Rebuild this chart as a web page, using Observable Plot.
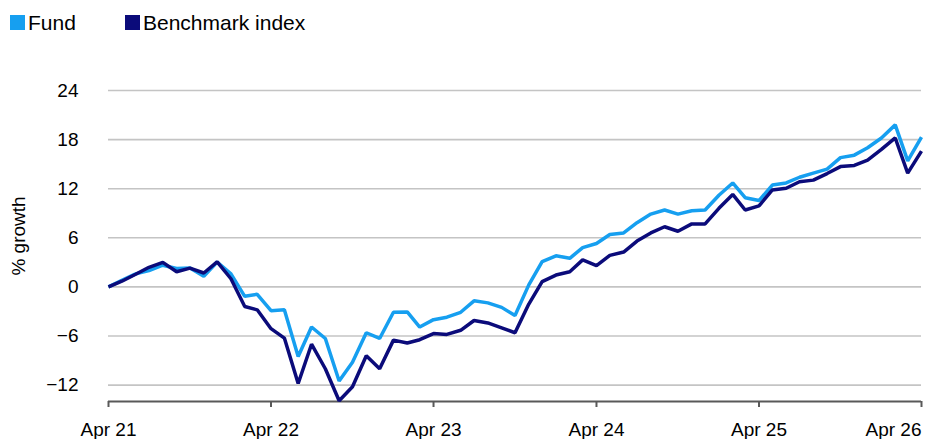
<!DOCTYPE html>
<html>
<head>
<meta charset="utf-8">
<script src="https://cdn.jsdelivr.net/npm/d3@7"></script>
<script src="https://cdn.jsdelivr.net/npm/@observablehq/plot@0.6"></script>
<style>
  body { margin: 0; background: #fff; font-family: "Liberation Sans", Arial, sans-serif; }
  #legend { position: relative; width: 925px; height: 40px; font-size: 21px; line-height: 21px; color: #000; }
  #legend .item { position: absolute; top: 12px; white-space: nowrap; }
  #legend .sw { display: inline-block; width: 15px; height: 15px; margin-right: 3px; }
  #chart svg { display: block; }
</style>
</head>
<body>
<div id="legend"></div>
<div id="chart"></div>
<script>
// ---- data ----
const seriesNames = ["Fund", "Benchmark index"];
const seriesColors = ["#169ff0", "#0b0b7a"];
const startMonth = "2021-04-01";
const endMonth = "2026-04-01";
const fund = [
  0, 0.8, 1.6, 2.0, 2.65, 2.25, 2.3, 1.3, 3.05, 1.6,
  -1.15, -0.9, -2.9, -2.8, -8.5, -4.9, -6.3, -11.5, -9.2, -5.6,
  -6.3, -3.1, -3.05, -4.9, -4.0, -3.7, -3.1, -1.7, -1.95, -2.5,
  -3.5, 0.25, 3.1, 3.8, 3.5, 4.8, 5.3, 6.4, 6.6, 7.85,
  8.9, 9.4, 8.9, 9.3, 9.4, 11.2, 12.7, 10.9, 10.55, 12.45,
  12.7, 13.4, 13.9, 14.4, 15.8, 16.1, 17.0, 18.2, 19.8, 15.4,
  18.3
];
const benchmark = [
  0, 0.7, 1.55, 2.4, 3.0, 1.85, 2.3, 1.7, 3.05, 1.0,
  -2.4, -2.8, -5.1, -6.25, -11.8, -7.0, -10.0, -13.9, -12.2, -8.4,
  -10.0, -6.5, -6.85, -6.45, -5.7, -5.8, -5.3, -4.1, -4.4, -5.0,
  -5.6, -2.1, 0.65, 1.45, 1.86, 3.3, 2.6, 3.85, 4.26, 5.6,
  6.6, 7.35, 6.8, 7.7, 7.7, 9.6, 11.3, 9.4, 9.9, 11.85,
  12.05, 12.85, 13.05, 13.85, 14.7, 14.85, 15.5, 16.8, 18.2, 13.9,
  16.6
];
const yTicks = [-12, -6, 0, 6, 12, 18, 24];
const yDomain = [-14, 24];
const xTickDates = ["2021-04-01", "2022-04-01", "2023-04-01", "2024-04-01", "2025-04-01", "2026-04-01"];
const xTickLabels = ["Apr 21", "Apr 22", "Apr 23", "Apr 24", "Apr 25", "Apr 26"];
const yLabel = "% growth";

// ---- build ----
const months = d3.utcMonth.range(new Date(startMonth), d3.utcMonth.offset(new Date(endMonth), 1));
const rows = [];
months.forEach((d, i) => {
  rows.push({date: d, value: fund[i], series: seriesNames[0]});
});
months.forEach((d, i) => {
  rows.push({date: d, value: benchmark[i], series: seriesNames[1]});
});
const tickDates = xTickDates.map(s => new Date(s));
const labelOf = new Map(tickDates.map((d, i) => [+d, xTickLabels[i]]));

// legend
const legend = document.getElementById("legend");
const legendLeft = [10, 125];
seriesNames.forEach((name, i) => {
  const it = document.createElement("div");
  it.className = "item";
  it.style.left = legendLeft[i] + "px";
  it.innerHTML = `<span class="sw" style="background:${seriesColors[i]}"></span>${name}`;
  legend.appendChild(it);
});

const axisColor = "#595959";
const fontSize = 19;

const plot = Plot.plot({
  width: 925,
  height: 399,
  marginTop: 50,
  marginBottom: 38,
  marginLeft: 108,
  marginRight: 4,
  style: {fontFamily: "'Liberation Sans', Arial, sans-serif", fontSize: fontSize + "px", color: "#000", background: "#fff"},
  x: {type: "utc", domain: [new Date(startMonth), new Date(endMonth)]},
  y: {domain: yDomain},
  color: {domain: seriesNames, range: seriesColors},
  marks: [
    Plot.gridY(yTicks, {stroke: "#c4c4c4", strokeOpacity: 1, strokeWidth: 1.6}),
    Plot.axisY(yTicks, {tickSize: 0, tickPadding: 30, fontSize: fontSize, fill: "#000", label: null}),
    Plot.text([yLabel], {frameAnchor: "left", textAnchor: "middle", rotate: -90, dx: -90, dy: -10, fontSize: fontSize, fill: "#000"}),
    Plot.ruleY([yDomain[0]], {stroke: axisColor, strokeWidth: 2}),
    Plot.axisX(tickDates.slice(0, 5), {tickSize: 6, tickPadding: 15, stroke: axisColor, strokeWidth: 2, fill: "#000", fontSize: fontSize, tickFormat: d => labelOf.get(+d), label: null}),
    Plot.axisX(tickDates.slice(5), {tickSize: 6, tickPadding: 15, stroke: axisColor, strokeWidth: 2, fill: "#000", fontSize: fontSize, textAnchor: "end", tickFormat: d => labelOf.get(+d), label: null}),
    Plot.line(rows, {x: "date", y: "value", z: "series", stroke: "series", strokeWidth: 3.5, strokeLinejoin: "miter", strokeLinecap: "butt"})
  ]
});
document.getElementById("chart").appendChild(plot);
</script>
</body>
</html>
